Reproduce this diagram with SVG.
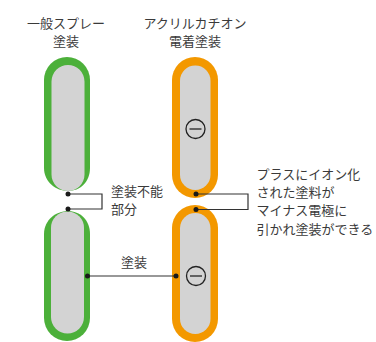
<svg xmlns="http://www.w3.org/2000/svg" width="376" height="342" viewBox="0 0 376 342">
<style>
text{font-family:"Noto Sans CJK JP","Noto Sans CJK SC",sans-serif;font-size:13px;fill:#3a3a3a}
.g{fill:#4cb03a}.o{fill:#f39800}.in{fill:#d3d3d3}
.ln{fill:none;stroke:#333;stroke-width:1.2}
.dot{fill:#1a1a1a}
.minus{fill:none;stroke:#222;stroke-width:1.3}
</style>
<rect width="376" height="342" fill="#fff"/>
<g id="title-spray">
<text x="66" y="28" text-anchor="middle">一般スプレー</text>
<text x="66" y="46" text-anchor="middle">塗装</text>
</g>
<g id="title-ed">
<text x="195" y="28" text-anchor="middle">アクリルカチオン</text>
<text x="195" y="46" text-anchor="middle">電着塗装</text>
</g>
<g id="spray-top">
<path class="g" d="M44,168 V80 A23,23 0 0 1 90,80 V168 C90,182 80,191 68,191 C56,191 44,182 44,168 Z"/>
<path class="in" d="M51.5,174.5 V81.5 A16.5,16.5 0 0 1 84.5,81.5 V174.5 A16.5,16.5 0 0 1 51.5,174.5 Z"/>
</g>
<g id="spray-bottom">
<path class="g" d="M44,234 V318 A23,23 0 0 0 90,318 V234 C90,220 80,211 68,211 C56,211 44,220 44,234 Z"/>
<path class="in" d="M51,228 V317 A16.5,16.5 0 0 0 84,317 V228 A16.5,16.5 0 0 0 51,228 Z"/>
</g>
<g id="ed-top">
<rect class="o" x="172" y="57" width="46" height="141" rx="23"/>
<rect class="in" x="180" y="65.5" width="30.5" height="124.5" rx="15.25"/>
<circle class="minus" cx="195.5" cy="129" r="9.5"/>
<line class="minus" x1="189.5" y1="129" x2="201.5" y2="129"/>
</g>
<g id="ed-bottom">
<rect class="o" x="172" y="205" width="46" height="137" rx="23"/>
<rect class="in" x="180" y="213" width="30.5" height="121" rx="15.25"/>
<circle class="minus" cx="196" cy="276" r="9.5"/>
<line class="minus" x1="190" y1="276" x2="202" y2="276"/>
</g>
<g id="connectors">
<path class="ln" d="M68,194 H102 V209 H68"/>
<path class="ln" d="M196,194 H248 V209.5 H196"/>
<path class="ln" d="M87.5,276 H176"/>
<circle class="dot" cx="68" cy="194" r="2.5"/>
<circle class="dot" cx="68" cy="209" r="2.5"/>
<circle class="dot" cx="196" cy="194" r="2.5"/>
<circle class="dot" cx="196" cy="209.5" r="2.5"/>
<circle class="dot" cx="87.5" cy="276" r="2.5"/>
<circle class="dot" cx="176" cy="276" r="2.5"/>
</g>
<g id="label-uncoated">
<text x="111" y="196">塗装不能</text>
<text x="111" y="214">部分</text>
</g>
<g id="label-coated">
<text x="134" y="267" text-anchor="middle">塗装</text>
</g>
<g id="label-ed">
<text x="256.5" y="179">プラスにイオン化</text>
<text x="256.5" y="197">された塗料が</text>
<text x="256.5" y="215">マイナス電極に</text>
<text x="256.5" y="233.5">引かれ塗装ができる</text>
</g>
</svg>
